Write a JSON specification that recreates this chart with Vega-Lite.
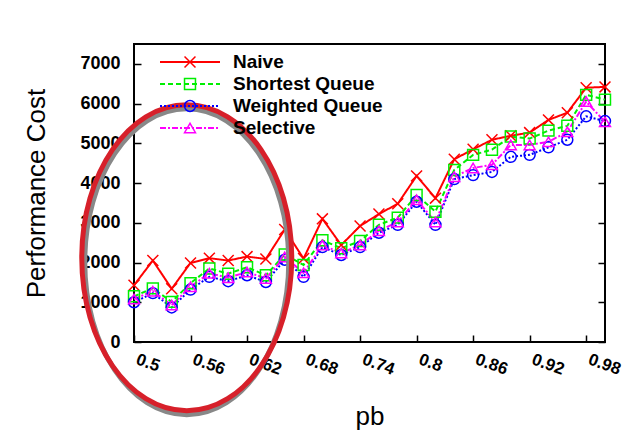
{
  "$schema": "https://vega.github.io/schema/vega-lite/v6.json",
  "width": 471,
  "height": 298,
  "autosize": "none",
  "padding": {"left": 134, "top": 44, "right": 29, "bottom": 88},
  "background": "white",
  "config": {
    "view": {"stroke": "black", "strokeWidth": 2},
    "font": "Liberation Sans",
    "axis": {
      "grid": false,
      "domain": false,
      "tickColor": "black",
      "tickWidth": 1.5,
      "tickSize": -7,
      "labelColor": "black",
      "labelFont": "Liberation Sans",
      "labelFontWeight": "bold",
      "titleFont": "Liberation Sans",
      "titleFontWeight": "normal",
      "titleColor": "black"
    }
  },
  "datasets": {
    "perf": [
      {"pb": 0.5, "cost": 1430, "method": "Naive"},
      {"pb": 0.52, "cost": 2050, "method": "Naive"},
      {"pb": 0.54, "cost": 1340, "method": "Naive"},
      {"pb": 0.56, "cost": 1990, "method": "Naive"},
      {"pb": 0.58, "cost": 2110, "method": "Naive"},
      {"pb": 0.6, "cost": 2050, "method": "Naive"},
      {"pb": 0.62, "cost": 2150, "method": "Naive"},
      {"pb": 0.64, "cost": 2090, "method": "Naive"},
      {"pb": 0.66, "cost": 2830, "method": "Naive"},
      {"pb": 0.68, "cost": 2100, "method": "Naive"},
      {"pb": 0.7, "cost": 3100, "method": "Naive"},
      {"pb": 0.72, "cost": 2440, "method": "Naive"},
      {"pb": 0.74, "cost": 2920, "method": "Naive"},
      {"pb": 0.76, "cost": 3220, "method": "Naive"},
      {"pb": 0.78, "cost": 3480, "method": "Naive"},
      {"pb": 0.8, "cost": 4180, "method": "Naive"},
      {"pb": 0.82, "cost": 3620, "method": "Naive"},
      {"pb": 0.84, "cost": 4600, "method": "Naive"},
      {"pb": 0.86, "cost": 4850, "method": "Naive"},
      {"pb": 0.88, "cost": 5090, "method": "Naive"},
      {"pb": 0.9, "cost": 5190, "method": "Naive"},
      {"pb": 0.92, "cost": 5270, "method": "Naive"},
      {"pb": 0.94, "cost": 5590, "method": "Naive"},
      {"pb": 0.96, "cost": 5770, "method": "Naive"},
      {"pb": 0.98, "cost": 6400, "method": "Naive"},
      {"pb": 1.0, "cost": 6420, "method": "Naive"},
      {"pb": 0.5, "cost": 1150, "method": "Shortest Queue"},
      {"pb": 0.52, "cost": 1350, "method": "Shortest Queue"},
      {"pb": 0.54, "cost": 1010, "method": "Shortest Queue"},
      {"pb": 0.56, "cost": 1480, "method": "Shortest Queue"},
      {"pb": 0.58, "cost": 1850, "method": "Shortest Queue"},
      {"pb": 0.6, "cost": 1720, "method": "Shortest Queue"},
      {"pb": 0.62, "cost": 1880, "method": "Shortest Queue"},
      {"pb": 0.64, "cost": 1680, "method": "Shortest Queue"},
      {"pb": 0.66, "cost": 2200, "method": "Shortest Queue"},
      {"pb": 0.68, "cost": 1940, "method": "Shortest Queue"},
      {"pb": 0.7, "cost": 2560, "method": "Shortest Queue"},
      {"pb": 0.72, "cost": 2360, "method": "Shortest Queue"},
      {"pb": 0.74, "cost": 2540, "method": "Shortest Queue"},
      {"pb": 0.76, "cost": 2950, "method": "Shortest Queue"},
      {"pb": 0.78, "cost": 3130, "method": "Shortest Queue"},
      {"pb": 0.8, "cost": 3700, "method": "Shortest Queue"},
      {"pb": 0.82, "cost": 3280, "method": "Shortest Queue"},
      {"pb": 0.84, "cost": 4330, "method": "Shortest Queue"},
      {"pb": 0.86, "cost": 4710, "method": "Shortest Queue"},
      {"pb": 0.88, "cost": 4840, "method": "Shortest Queue"},
      {"pb": 0.9, "cost": 5170, "method": "Shortest Queue"},
      {"pb": 0.92, "cost": 5120, "method": "Shortest Queue"},
      {"pb": 0.94, "cost": 5320, "method": "Shortest Queue"},
      {"pb": 0.96, "cost": 5440, "method": "Shortest Queue"},
      {"pb": 0.98, "cost": 6220, "method": "Shortest Queue"},
      {"pb": 1.0, "cost": 6100, "method": "Shortest Queue"},
      {"pb": 0.5, "cost": 1000, "method": "Weighted Queue"},
      {"pb": 0.52, "cost": 1230, "method": "Weighted Queue"},
      {"pb": 0.54, "cost": 870, "method": "Weighted Queue"},
      {"pb": 0.56, "cost": 1320, "method": "Weighted Queue"},
      {"pb": 0.58, "cost": 1640, "method": "Weighted Queue"},
      {"pb": 0.6, "cost": 1530, "method": "Weighted Queue"},
      {"pb": 0.62, "cost": 1680, "method": "Weighted Queue"},
      {"pb": 0.64, "cost": 1510, "method": "Weighted Queue"},
      {"pb": 0.66, "cost": 2070, "method": "Weighted Queue"},
      {"pb": 0.68, "cost": 1640, "method": "Weighted Queue"},
      {"pb": 0.7, "cost": 2390, "method": "Weighted Queue"},
      {"pb": 0.72, "cost": 2190, "method": "Weighted Queue"},
      {"pb": 0.74, "cost": 2390, "method": "Weighted Queue"},
      {"pb": 0.76, "cost": 2750, "method": "Weighted Queue"},
      {"pb": 0.78, "cost": 2950, "method": "Weighted Queue"},
      {"pb": 0.8, "cost": 3530, "method": "Weighted Queue"},
      {"pb": 0.82, "cost": 2950, "method": "Weighted Queue"},
      {"pb": 0.84, "cost": 4100, "method": "Weighted Queue"},
      {"pb": 0.86, "cost": 4200, "method": "Weighted Queue"},
      {"pb": 0.88, "cost": 4280, "method": "Weighted Queue"},
      {"pb": 0.9, "cost": 4660, "method": "Weighted Queue"},
      {"pb": 0.92, "cost": 4710, "method": "Weighted Queue"},
      {"pb": 0.94, "cost": 4900, "method": "Weighted Queue"},
      {"pb": 0.96, "cost": 5090, "method": "Weighted Queue"},
      {"pb": 0.98, "cost": 5680, "method": "Weighted Queue"},
      {"pb": 1.0, "cost": 5560, "method": "Weighted Queue"},
      {"pb": 0.5, "cost": 1080, "method": "Selective"},
      {"pb": 0.52, "cost": 1280, "method": "Selective"},
      {"pb": 0.54, "cost": 930, "method": "Selective"},
      {"pb": 0.56, "cost": 1390, "method": "Selective"},
      {"pb": 0.58, "cost": 1730, "method": "Selective"},
      {"pb": 0.6, "cost": 1620, "method": "Selective"},
      {"pb": 0.62, "cost": 1760, "method": "Selective"},
      {"pb": 0.64, "cost": 1600, "method": "Selective"},
      {"pb": 0.66, "cost": 2140, "method": "Selective"},
      {"pb": 0.68, "cost": 1740, "method": "Selective"},
      {"pb": 0.7, "cost": 2440, "method": "Selective"},
      {"pb": 0.72, "cost": 2240, "method": "Selective"},
      {"pb": 0.74, "cost": 2440, "method": "Selective"},
      {"pb": 0.76, "cost": 2800, "method": "Selective"},
      {"pb": 0.78, "cost": 3020, "method": "Selective"},
      {"pb": 0.8, "cost": 3580, "method": "Selective"},
      {"pb": 0.82, "cost": 3020, "method": "Selective"},
      {"pb": 0.84, "cost": 4160, "method": "Selective"},
      {"pb": 0.86, "cost": 4380, "method": "Selective"},
      {"pb": 0.88, "cost": 4460, "method": "Selective"},
      {"pb": 0.9, "cost": 4960, "method": "Selective"},
      {"pb": 0.92, "cost": 4960, "method": "Selective"},
      {"pb": 0.94, "cost": 5040, "method": "Selective"},
      {"pb": 0.96, "cost": 5290, "method": "Selective"},
      {"pb": 0.98, "cost": 6050, "method": "Selective"},
      {"pb": 1.0, "cost": 5540, "method": "Selective"}
    ],
    "highlight": [
      {"pb": 0.556, "cost": 2120}
    ]
  },
  "layer": [
    {
      "data": {"name": "perf"},
      "mark": {"type": "line", "strokeWidth": 2},
      "encoding": {
        "x": {
          "field": "pb", "type": "quantitative",
          "scale": {"domain": [0.5, 1.0], "nice": false, "zero": false},
          "axis": {
            "values": [0.5, 0.56, 0.62, 0.68, 0.74, 0.8, 0.86, 0.92, 0.98],
            "format": ".2~f",
            "labelAngle": 20,
            "labelAlign": "left",
            "labelBaseline": "top",
            "labelFontSize": 17,
            "labelPadding": 16,
            "labelOffset": 5,
            "title": "pb",
            "titleFontSize": 26,
            "titlePadding": 26
          }
        },
        "y": {
          "field": "cost", "type": "quantitative",
          "scale": {"domain": [0, 7500], "nice": false},
          "axis": {
            "values": [0, 1000, 2000, 3000, 4000, 5000, 6000, 7000],
            "format": "d",
            "labelFontSize": 18,
            "labelPadding": 21,
            "title": "Performance Cost",
            "titleFontSize": 26,
            "titlePadding": 30
          }
        },
        "color": {
          "field": "method", "type": "nominal",
          "scale": {
            "domain": ["Naive", "Shortest Queue", "Weighted Queue", "Selective"],
            "range": ["#ff0000", "#00ee00", "#0000ff", "#ff00ff"]
          },
          "legend": {
            "title": null, "orient": "none", "legendX": 46.5, "legendY": 8.5,
            "padding": 0, "symbolType": "M-6,0H6", "symbolSize": 100,
            "symbolStrokeWidth": 2, "labelFontSize": 19, "labelFontWeight": "bold",
            "labelColor": "black", "labelOffset": 33.5, "rowPadding": 2
          }
        },
        "strokeDash": {
          "field": "method", "type": "nominal",
          "scale": {
            "domain": ["Naive", "Shortest Queue", "Weighted Queue", "Selective"],
            "range": [[1, 0], [5, 3], [2, 2], [6, 2, 2, 2]]
          },
          "legend": {
            "title": null, "orient": "none", "legendX": 46.5, "legendY": 8.5,
            "padding": 0, "symbolType": "M-6,0H6", "symbolSize": 100,
            "symbolStrokeWidth": 2, "labelFontSize": 19, "labelFontWeight": "bold",
            "labelColor": "black", "labelOffset": 33.5, "rowPadding": 2
          }
        }
      }
    },
    {
      "data": {"name": "perf"},
      "mark": {"type": "point", "filled": false, "strokeWidth": 1.5, "size": 120, "opacity": 1},
      "encoding": {
        "x": {"field": "pb", "type": "quantitative", "axis": null},
        "y": {
          "field": "cost", "type": "quantitative",
          "axis": {
            "orient": "right",
            "values": [0, 1000, 2000, 3000, 4000, 5000, 6000, 7000],
            "labels": false,
            "title": null
          }
        },
        "color": {
          "field": "method", "type": "nominal",
          "legend": {
            "title": null, "orient": "none", "legendX": 46.5, "legendY": 8.5,
            "padding": 0, "symbolSize": 120, "symbolStrokeWidth": 1.5,
            "labelFontSize": 19, "labelFontWeight": "bold", "labelOpacity": 0,
            "labelOffset": 33.5, "rowPadding": 2
          }
        },
        "shape": {
          "field": "method", "type": "nominal",
          "scale": {
            "domain": ["Naive", "Shortest Queue", "Weighted Queue", "Selective"],
            "range": ["M-1,-1L1,1M1,-1L-1,1", "square", "circle", "triangle-up"]
          },
          "legend": {
            "title": null, "orient": "none", "legendX": 46.5, "legendY": 8.5,
            "padding": 0, "symbolSize": 120, "symbolStrokeWidth": 1.5,
            "labelFontSize": 19, "labelFontWeight": "bold", "labelOpacity": 0,
            "labelOffset": 33.5, "rowPadding": 2
          }
        }
      }
    },
    {
      "data": {"name": "highlight"},
      "mark": {
        "type": "point", "filled": false, "opacity": 1, "size": 4,
        "shape": "M-102,0A102,153,0,1,0,102,0A102,153,0,1,0,-102,0Z",
        "stroke": "#888888", "strokeWidth": 5, "yOffset": 4
      },
      "encoding": {
        "x": {"field": "pb", "type": "quantitative", "axis": null},
        "y": {"field": "cost", "type": "quantitative", "axis": null}
      }
    },
    {
      "data": {"name": "highlight"},
      "mark": {
        "type": "point", "filled": false, "opacity": 1, "size": 4,
        "shape": "M-105,0A105,153,0,1,0,105,0A105,153,0,1,0,-105,0Z",
        "stroke": "#d7202a", "strokeWidth": 5
      },
      "encoding": {
        "x": {"field": "pb", "type": "quantitative", "axis": null},
        "y": {"field": "cost", "type": "quantitative", "axis": null}
      }
    }
  ],
  "resolve": {
    "axis": {"x": "independent", "y": "independent"},
    "legend": {"color": "independent", "shape": "independent", "strokeDash": "independent"}
  }
}
